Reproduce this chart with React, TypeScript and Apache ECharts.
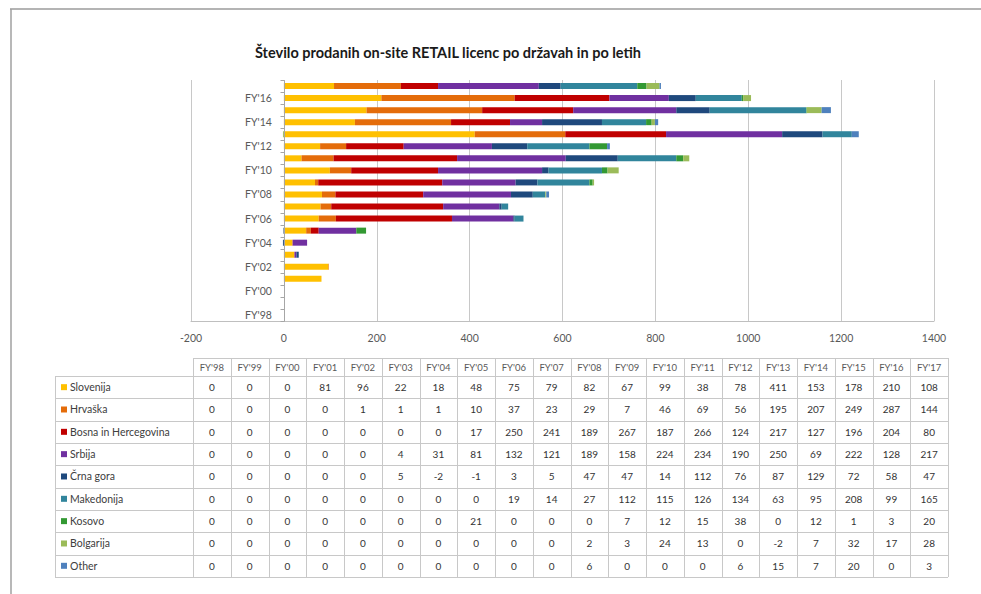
import React, { useEffect, useRef } from "react";
import * as echarts from "echarts";

const titleText = "Število prodanih on-site RETAIL licenc po državah in po letih";

const categories = [
  "FY'98", "FY'99", "FY'00", "FY'01", "FY'02", "FY'03", "FY'04", "FY'05", "FY'06", "FY'07",
  "FY'08", "FY'09", "FY'10", "FY'11", "FY'12", "FY'13", "FY'14", "FY'15", "FY'16", "FY'17",
];

const seriesNames = [
  "Slovenija", "Hrvaška", "Bosna in Hercegovina", "Srbija", "Črna gora",
  "Makedonija", "Kosovo", "Bolgarija", "Other",
];

const slovenija = [0, 0, 0, 81, 96, 22, 18, 48, 75, 79, 82, 67, 99, 38, 78, 411, 153, 178, 210, 108];
const hrvaska = [0, 0, 0, 0, 1, 1, 1, 10, 37, 23, 29, 7, 46, 69, 56, 195, 207, 249, 287, 144];
const bosna = [0, 0, 0, 0, 0, 0, 0, 17, 250, 241, 189, 267, 187, 266, 124, 217, 127, 196, 204, 80];
const srbija = [0, 0, 0, 0, 0, 4, 31, 81, 132, 121, 189, 158, 224, 234, 190, 250, 69, 222, 128, 217];
const crnaGora = [0, 0, 0, 0, 0, 5, -2, -1, 3, 5, 47, 47, 14, 112, 76, 87, 129, 72, 58, 47];
const makedonija = [0, 0, 0, 0, 0, 0, 0, 0, 19, 14, 27, 112, 115, 126, 134, 63, 95, 208, 99, 165];
const kosovo = [0, 0, 0, 0, 0, 0, 0, 21, 0, 0, 0, 7, 12, 15, 38, 0, 12, 1, 3, 20];
const bolgarija = [0, 0, 0, 0, 0, 0, 0, 0, 0, 0, 2, 3, 24, 13, 0, -2, 7, 32, 17, 28];
const other = [0, 0, 0, 0, 0, 0, 0, 0, 0, 0, 6, 0, 0, 0, 6, 15, 7, 20, 0, 3];

const seriesData = [slovenija, hrvaska, bosna, srbija, crnaGora, makedonija, kosovo, bolgarija, other];

const seriesColors = [
  "#FFC000", "#E46C0A", "#C00000", "#7030A0", "#1F497D",
  "#31859C", "#339933", "#9BBB59", "#4F81BD",
];

const xMin = -200;
const xMax = 1400;
const xStep = 200;

const FONT = "Lato, 'Open Sans', sans-serif";

export default function App() {
  const ref = useRef<HTMLDivElement>(null);

  useEffect(() => {
    document.body.style.margin = "0";
    const chart = echarts.init(ref.current!, null, { renderer: "svg" });

    const gridLeft = 191;
    const gridRight = 47;
    const gridWidth = 981 - gridLeft - gridRight;
    const zeroOffset = (gridWidth * (0 - xMin)) / (xMax - xMin);

    // table layout
    const legendX = 55;
    const colX0 = 193;
    const colW = 37.75;
    const headTop = 358;
    const rowTop = 376;
    const rowH = 22.33;
    const tableRight = colX0 + colW * categories.length;
    const tableBottom = rowTop + rowH * seriesNames.length;
    const lineStyle = { stroke: "#c8c8c8", lineWidth: 1 };

    const graphics: any[] = [];
    // page frame
    graphics.push({ type: "line", silent: true, shape: { x1: 10, y1: 9, x2: 981, y2: 9 }, style: { stroke: "#b4b4b4", lineWidth: 2 } });
    graphics.push({ type: "line", silent: true, shape: { x1: 11, y1: 9, x2: 11, y2: 594 }, style: { stroke: "#a0a0a0", lineWidth: 1.5 } });
    // title
    graphics.push({
      type: "text", silent: true, x: 448, y: 52,
      style: { text: titleText, align: "center", verticalAlign: "middle", fontFamily: FONT, fontWeight: "bold", fontSize: 14.5, fill: "#1a1a1a" },
    });

    // table grid lines
    graphics.push({ type: "line", silent: true, shape: { x1: colX0, y1: headTop + 0.5, x2: tableRight, y2: headTop + 0.5 }, style: lineStyle });
    for (let i = 0; i <= seriesNames.length; i++) {
      const y = Math.round(rowTop + i * rowH) + 0.5;
      graphics.push({ type: "line", silent: true, shape: { x1: legendX, y1: y, x2: tableRight, y2: y }, style: lineStyle });
    }
    graphics.push({ type: "line", silent: true, shape: { x1: legendX + 0.5, y1: rowTop, x2: legendX + 0.5, y2: tableBottom }, style: lineStyle });
    for (let j = 0; j <= categories.length; j++) {
      const x = Math.round(colX0 + j * colW) + 0.5;
      graphics.push({ type: "line", silent: true, shape: { x1: x, y1: headTop, x2: x, y2: tableBottom }, style: lineStyle });
    }
    // header texts
    categories.forEach((c, j) => {
      graphics.push({
        type: "text", silent: true, x: colX0 + (j + 0.5) * colW, y: (headTop + rowTop) / 2 + 0.5,
        style: { text: c, align: "center", verticalAlign: "middle", fontFamily: FONT, fontSize: 9.5, fill: "#595959" },
      });
    });
    // rows
    seriesNames.forEach((name, i) => {
      const cy = rowTop + (i + 0.5) * rowH;
      graphics.push({
        type: "rect", silent: true, shape: { x: 61, y: cy - 3, width: 6, height: 6 },
        style: { fill: seriesColors[i] },
      });
      graphics.push({
        type: "text", silent: true, x: 70, y: cy,
        style: { text: name, align: "left", verticalAlign: "middle", fontFamily: FONT, fontSize: 10.5, fill: "#404040" },
      });
      seriesData[i].forEach((v, j) => {
        graphics.push({
          type: "text", silent: true, x: colX0 + (j + 0.5) * colW, y: cy,
          style: { text: String(v), align: "center", verticalAlign: "middle", fontFamily: FONT, fontSize: 10, fill: "#333333" },
        });
      });
    });

    const axisColor = "#a6a6a6";

    const barSeries = seriesNames.map((name, i) => ({
      name,
      type: "bar",
      stack: "total",
      barWidth: 6,
      data: seriesData[i],
      itemStyle: { color: seriesColors[i] },
      emphasis: { disabled: true },
      z: 2,
    }));

    // category axis line and ticks drawn at value 0
    const axisSeries = {
      type: "custom",
      silent: true,
      z: 5,
      data: categories.map((_, i) => [0, i]),
      encode: { x: 0, y: 1 },
      renderItem: (params: any, api: any) => {
        const idx = api.value(1);
        const p = api.coord([0, idx]);
        const h = api.size([0, 1])[1];
        const x = Math.round(p[0]) + 0.5;
        const yb = Math.round(p[1] + h / 2) + 0.5;
        const children: any[] = [
          { type: "line", shape: { x1: x - 4, y1: yb, x2: x, y2: yb }, style: { stroke: axisColor, lineWidth: 1 } },
        ];
        if (idx === categories.length - 1) {
          const yt = Math.round(p[1] - h / 2) + 0.5;
          children.push({ type: "line", shape: { x1: x - 4, y1: yt, x2: x, y2: yt }, style: { stroke: axisColor, lineWidth: 1 } });
        }
        if (idx === 0) {
          children.push({
            type: "line",
            shape: { x1: x, y1: yb, x2: x, y2: yb - h * categories.length },
            style: { stroke: axisColor, lineWidth: 1 },
          });
        }
        return { type: "group", children };
      },
    };

    const option: any = {
      animation: false,
      backgroundColor: "#ffffff",
      grid: { left: gridLeft, right: gridRight, top: 80, bottom: 273, containLabel: false },
      xAxis: {
        type: "value",
        min: xMin,
        max: xMax,
        interval: xStep,
        axisLine: { show: true, onZero: false, lineStyle: { color: "#bfbfbf" } },
        axisTick: { show: false },
        axisLabel: { color: "#595959", fontFamily: FONT, fontSize: 10.5, margin: 11, formatter: (v: number) => String(v) },
        splitLine: { show: true, lineStyle: { color: "#c8c8c8", width: 1 } },
      },
      yAxis: {
        type: "category",
        data: categories,
        axisLine: { show: false },
        axisTick: { show: false },
        axisLabel: {
          interval: 1,
          inside: true,
          align: "right",
          margin: zeroOffset - 12,
          color: "#595959",
          fontFamily: FONT,
          fontSize: 10.5,
        },
        splitLine: { show: false },
      },
      series: [...barSeries, axisSeries],
      graphic: graphics,
    };

    chart.setOption(option);
    return () => chart.dispose();
  }, []);

  return (
    <div
      ref={ref}
      style={{ position: "absolute", left: 0, top: 0, width: 981, height: 594, background: "#fff" }}
    />
  );
}
